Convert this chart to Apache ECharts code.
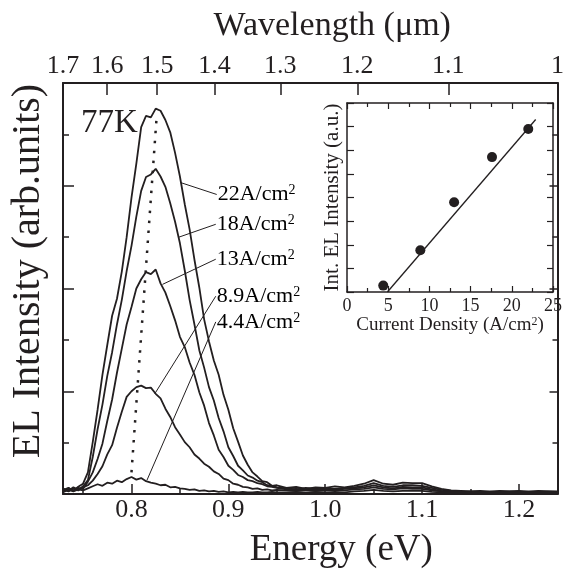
<!DOCTYPE html>
<html>
<head>
<meta charset="utf-8">
<script src="https://cdn.jsdelivr.net/npm/echarts@6/dist/echarts.min.js"></script>
<style>
html, body { margin: 0; padding: 0; background: #fff; }
#chart { width: 567px; height: 574px; }
</style>
</head>
<body>
<div id="chart"></div>
<script>
// photon energy grid of the EL spectra (eV)
var energy = [
  0.730, 0.735, 0.740, 0.745, 0.750, 0.755, 0.760, 0.765, 0.770, 0.775,
  0.780, 0.785, 0.790, 0.795, 0.800, 0.805, 0.810, 0.815, 0.820, 0.825,
  0.830, 0.835, 0.840, 0.845, 0.850, 0.855, 0.860, 0.865, 0.870, 0.875,
  0.880, 0.885, 0.890, 0.895, 0.900, 0.905, 0.910, 0.915, 0.920, 0.925,
  0.930, 0.935, 0.940, 0.945, 0.950, 0.96, 0.97, 0.98, 0.99, 1.00,
  1.01, 1.02, 1.03, 1.04, 1.05, 1.06, 1.07, 1.08, 1.09, 1.10,
  1.11, 1.12, 1.13, 1.14, 1.15, 1.16, 1.17, 1.18, 1.19, 1.20,
  1.21, 1.22, 1.23, 1.24
];
// EL intensity, one array per current density
var el22 = [
  0.08, 0.12, 0.06, 0.14, 0.20, 0.42, 1.01, 1.64, 2.32, 2.90,
  3.47, 3.80, 4.33, 5.00, 5.77, 6.43, 7.14, 7.36, 7.33, 7.50,
  7.46, 7.28, 7.04, 6.64, 6.18, 5.64, 5.15, 4.56, 4.02, 3.40,
  2.97, 2.60, 2.32, 1.93, 1.64, 1.28, 1.02, 0.75, 0.57, 0.42,
  0.34, 0.25, 0.23, 0.16, 0.17, 0.12, 0.14, 0.10, 0.13, 0.12,
  0.15, 0.13, 0.16, 0.20, 0.27, 0.20, 0.18, 0.22, 0.21, 0.21,
  0.15, 0.10, 0.07, 0.06, 0.05, 0.06, 0.04, 0.06, 0.05, 0.06,
  0.04, 0.06, 0.05, 0.05
];
var el18 = [
  0.10, 0.06, 0.13, 0.08, 0.15, 0.27, 0.72, 1.26, 1.74, 2.30,
  2.76, 3.30, 3.78, 4.34, 4.83, 5.40, 5.90, 6.17, 6.22, 6.33,
  6.18, 5.98, 5.66, 5.30, 4.88, 4.35, 3.78, 3.30, 2.80, 2.46,
  2.08, 1.82, 1.48, 1.22, 0.91, 0.74, 0.55, 0.46, 0.36, 0.32,
  0.26, 0.23, 0.17, 0.16, 0.13, 0.11, 0.09, 0.12, 0.10, 0.11,
  0.10, 0.12, 0.13, 0.16, 0.21, 0.16, 0.14, 0.17, 0.17, 0.16,
  0.12, 0.08, 0.06, 0.05, 0.04, 0.05, 0.04, 0.05, 0.04, 0.05,
  0.04, 0.05, 0.04, 0.04
];
var el13 = [
  0.05, 0.11, 0.07, 0.12, 0.10, 0.24, 0.42, 0.68, 0.98, 1.42,
  1.84, 2.36, 2.83, 3.30, 3.64, 4.00, 4.18, 4.32, 4.28, 4.37,
  4.10, 3.92, 3.66, 3.38, 3.06, 2.86, 2.56, 2.32, 1.98, 1.72,
  1.38, 1.14, 0.86, 0.72, 0.55, 0.47, 0.37, 0.33, 0.27, 0.25,
  0.21, 0.19, 0.15, 0.14, 0.12, 0.09, 0.10, 0.08, 0.09, 0.10,
  0.08, 0.10, 0.11, 0.13, 0.17, 0.13, 0.11, 0.14, 0.13, 0.13,
  0.09, 0.06, 0.05, 0.04, 0.05, 0.04, 0.05, 0.04, 0.05, 0.04,
  0.05, 0.04, 0.05, 0.04
];
var el89 = [
  0.09, 0.05, 0.12, 0.07, 0.13, 0.17, 0.26, 0.39, 0.54, 0.77,
  0.95, 1.29, 1.60, 1.89, 2.00, 2.08, 2.11, 2.06, 2.07, 1.95,
  1.86, 1.66, 1.50, 1.30, 1.16, 1.01, 0.91, 0.77, 0.69, 0.59,
  0.53, 0.44, 0.39, 0.30, 0.27, 0.20, 0.18, 0.14, 0.13, 0.10,
  0.11, 0.08, 0.09, 0.07, 0.08, 0.07, 0.06, 0.08, 0.06, 0.07,
  0.08, 0.07, 0.09, 0.10, 0.13, 0.10, 0.09, 0.11, 0.10, 0.10,
  0.07, 0.05, 0.04, 0.04, 0.03, 0.04, 0.03, 0.04, 0.03, 0.04,
  0.03, 0.04, 0.03, 0.03
];
var el44 = [
  0.04, 0.08, 0.05, 0.09, 0.07, 0.11, 0.15, 0.19, 0.16, 0.22,
  0.20, 0.26, 0.23, 0.29, 0.33, 0.28, 0.31, 0.25, 0.22, 0.20,
  0.17, 0.18, 0.13, 0.14, 0.11, 0.10, 0.08, 0.09, 0.06, 0.07,
  0.05, 0.06, 0.04, 0.05, 0.03, 0.04, 0.03, 0.04, 0.03, 0.03,
  0.04, 0.03, 0.03, 0.04, 0.03, 0.03, 0.04, 0.03, 0.04, 0.03,
  0.04, 0.03, 0.05, 0.06, 0.08, 0.06, 0.05, 0.06, 0.06, 0.06,
  0.04, 0.03, 0.03, 0.02, 0.03, 0.02, 0.03, 0.02, 0.03, 0.02,
  0.03, 0.02, 0.03, 0.02
];
var spectra = [el22, el18, el13, el89, el44];
var currentLabels = ['22', '18', '13', '8.9', '4.4'];
// leader lines from each curve to its label (E, intensity)
var leaderStart = [[0.851, 6.06], [0.849, 5.00], [0.832, 4.08], [0.824, 1.95], [0.816, 0.27]];
var leaderEnd = [[0.888, 5.83], [0.887, 5.25], [0.887, 4.57], [0.887, 3.85], [0.887, 3.35]];
// dotted line through the peaks
var peakTrend = [[0.800, 0.42], [0.826, 7.35]];

// axis ticks
var energyTicks = [0.8, 0.9, 1.0, 1.1, 1.2];
var energyMinorTicks = [0.75, 0.85, 0.95, 1.05, 1.15];
var wavelengthTicks = [1.7, 1.6, 1.5, 1.4, 1.3, 1.2, 1.1, 1.0];

// inset: integrated EL vs current density
var currentDensity = [4.4, 8.9, 13, 17.6, 22];
var intEL = [0.27, 1.77, 3.80, 5.71, 6.90];
var fitCurrent = [4.9, 22.9];
var fitIntEL = [0, 7.3];

(function() {
  var myChart = echarts.init(document.getElementById('chart'), null, { renderer: 'canvas' });
  var font = 'Liberation Serif';
  var ink = '#231f20';
  var hc = 1.2398; // eV*um
  var eMin = hc / wavelengthTicks[0];
  var eMax = hc / wavelengthTicks[wavelengthTicks.length - 1];
  var wlEnergies = wavelengthTicks.map(function(w) { return hc / w; });

  // frame line, never pulled to the zero of the other axis
  var frame = function(w) { return { onZero: false, lineStyle: { color: ink, width: w } }; };
  var noSplit = { show: false };

  var spectraSeries = spectra.map(function(vals, k) {
    return {
      name: currentLabels[k],
      type: 'line',
      xAxisIndex: 0,
      yAxisIndex: 0,
      symbol: 'none',
      data: energy.map(function(e, i) { return [e, vals[i]]; }),
      lineStyle: { color: ink, width: 1.8 },
      z: 3
    };
  });

  var option = {
    animation: false,
    backgroundColor: '#fff',
    textStyle: { fontFamily: font, color: ink },
    title: {
      text: '77K',
      left: 76,
      top: 102,
      textStyle: { fontFamily: font, fontSize: 33, fontWeight: 'normal', color: ink }
    },
    grid: [
      { left: 62, top: 83, width: 502, height: 419 },
      { left: 347, top: 103, width: 206, height: 189 }
    ],
    xAxis: [
      {
        // energy, major ticks + labels
        type: 'value', gridIndex: 0, position: 'bottom',
        min: eMin, max: eMax,
        axisLine: frame(2),
        axisTick: { inside: true, length: 10, customValues: energyTicks, lineStyle: { color: ink, width: 1.5 } },
        axisLabel: {
          customValues: energyTicks, margin: 3, fontSize: 26, fontFamily: font, color: ink,
          formatter: function(v) { return v.toFixed(1); }
        },
        splitLine: noSplit,
        name: 'Energy (eV)', nameLocation: 'middle', nameGap: 38,
        nameTextStyle: { fontSize: 37, fontFamily: font, color: ink, padding: [0, 0, 0, 62] }
      },
      {
        // energy, minor ticks
        type: 'value', gridIndex: 0, position: 'bottom',
        min: eMin, max: eMax,
        axisLine: { show: false, onZero: false },
        axisTick: { inside: true, length: 5, customValues: energyMinorTicks, lineStyle: { color: ink, width: 1.5 } },
        axisLabel: { show: false },
        splitLine: noSplit
      },
      {
        // wavelength on top
        type: 'value', gridIndex: 0, position: 'top',
        min: eMin, max: eMax,
        axisLine: frame(2),
        axisTick: { inside: true, length: 12, customValues: wlEnergies, lineStyle: { color: ink, width: 1.5 } },
        axisLabel: {
          customValues: wlEnergies, margin: 4, fontSize: 26, fontFamily: font, color: ink,
          formatter: function(v) { return String(Math.round(hc / v * 10) / 10); }
        },
        splitLine: noSplit,
        name: 'Wavelength (\u03bcm)', nameLocation: 'middle', nameGap: 40,
        nameTextStyle: { fontSize: 34, fontFamily: font, color: ink, padding: [0, 0, 0, 44] }
      },
      {
        // inset x
        type: 'value', gridIndex: 1, position: 'bottom',
        min: 0, max: 25, interval: 5,
        axisLine: frame(1.5),
        axisTick: { inside: true, length: 6, lineStyle: { color: ink, width: 1.2 } },
        minorTick: { show: true, splitNumber: 2, length: 4, lineStyle: { color: ink, width: 1.2 } },
        axisLabel: { margin: 5, fontSize: 18, fontFamily: font, color: ink },
        splitLine: noSplit,
        minorSplitLine: noSplit,
        name: '{n|Current Density (A/cm}{s|2}{n|)}', nameLocation: 'middle', nameGap: 22,
        nameTextStyle: {
          rich: {
            n: { fontSize: 19, fontFamily: font, color: ink },
            s: { fontSize: 12, fontFamily: font, color: ink, verticalAlign: 'top' }
          }
        }
      },
      {
        type: 'value', gridIndex: 1, position: 'top',
        min: 0, max: 25, interval: 5,
        axisLine: frame(1.5),
        axisTick: { inside: true, length: 6, lineStyle: { color: ink, width: 1.2 } },
        minorTick: { show: true, splitNumber: 2, length: 4, lineStyle: { color: ink, width: 1.2 } },
        axisLabel: { show: false },
        splitLine: noSplit
      }
    ],
    yAxis: [
      {
        type: 'value', gridIndex: 0, position: 'left',
        min: 0, max: 8, interval: 2,
        axisLine: frame(2),
        axisTick: { inside: true, length: 11, lineStyle: { color: ink, width: 1.5 } },
        minorTick: { show: true, splitNumber: 2, length: 6, lineStyle: { color: ink, width: 1.5 } },
        axisLabel: { show: false },
        splitLine: noSplit,
        name: 'EL Intensity (arb.units)', nameLocation: 'middle', nameGap: 15,
        nameTextStyle: { fontSize: 40, fontFamily: font, color: ink, padding: [0, 0, 0, 35] }
      },
      {
        type: 'value', gridIndex: 0, position: 'right',
        min: 0, max: 8, interval: 2,
        axisLine: frame(2),
        axisTick: { inside: true, length: 8, lineStyle: { color: ink, width: 1.5 } },
        minorTick: { show: true, splitNumber: 2, length: 5, lineStyle: { color: ink, width: 1.5 } },
        axisLabel: { show: false },
        splitLine: noSplit
      },
      {
        type: 'value', gridIndex: 1, position: 'left',
        min: 0, max: 8, interval: 1,
        axisLine: frame(1.5),
        axisTick: { inside: true, length: 7, lineStyle: { color: ink, width: 1.2 } },
        axisLabel: { show: false },
        splitLine: noSplit,
        name: 'Int. EL Intensity (a.u.)', nameLocation: 'middle', nameGap: 4,
        nameTextStyle: { fontSize: 21, fontFamily: font, color: ink }
      },
      {
        type: 'value', gridIndex: 1, position: 'right',
        min: 0, max: 8, interval: 1,
        axisLine: frame(1.5),
        axisTick: { inside: true, length: 6, lineStyle: { color: ink, width: 1.2 } },
        axisLabel: { show: false },
        splitLine: noSplit
      }
    ],
    series: spectraSeries.concat([
      {
        // peak shift guide
        type: 'line', xAxisIndex: 0, yAxisIndex: 0,
        symbol: 'none', data: peakTrend,
        lineStyle: { color: ink, width: 2.5, type: [2.5, 7.5] },
        z: 2
      },
      {
        // leader lines
        type: 'lines', coordinateSystem: 'cartesian2d', xAxisIndex: 0, yAxisIndex: 0,
        data: leaderStart.map(function(p, i) { return { coords: [p, leaderEnd[i]] }; }),
        lineStyle: { color: ink, width: 1, opacity: 1 },
        silent: true
      },
      {
        // current density labels
        type: 'scatter', xAxisIndex: 0, yAxisIndex: 0,
        symbolSize: 0,
        itemStyle: { opacity: 1 },
        data: leaderEnd.map(function(p, i) { return { value: p, name: currentLabels[i] }; }),
        label: {
          show: true, position: 'right', distance: 1, opacity: 1,
          formatter: function(p) { return '{n|' + p.name + 'A/cm}{s|2}'; },
          rich: {
            n: { fontSize: 22, fontFamily: font, color: '#000' },
            s: { fontSize: 14, fontFamily: font, color: '#000', verticalAlign: 'top' }
          }
        },
        silent: true
      },
      {
        // inset: measured points
        type: 'scatter', xAxisIndex: 3, yAxisIndex: 2,
        symbol: 'circle', symbolSize: 10,
        data: currentDensity.map(function(c, i) { return [c, intEL[i]]; }),
        itemStyle: { color: ink, opacity: 1 },
        z: 4
      },
      {
        // inset: linear fit
        type: 'line', xAxisIndex: 3, yAxisIndex: 2,
        symbol: 'none',
        data: fitCurrent.map(function(c, i) { return [c, fitIntEL[i]]; }),
        lineStyle: { color: ink, width: 1.3 }
      }
    ])
  };

  myChart.setOption(option);
  window.addEventListener('resize', function() {
    myChart.resize();
  });
})();
</script>
</body>
</html>
